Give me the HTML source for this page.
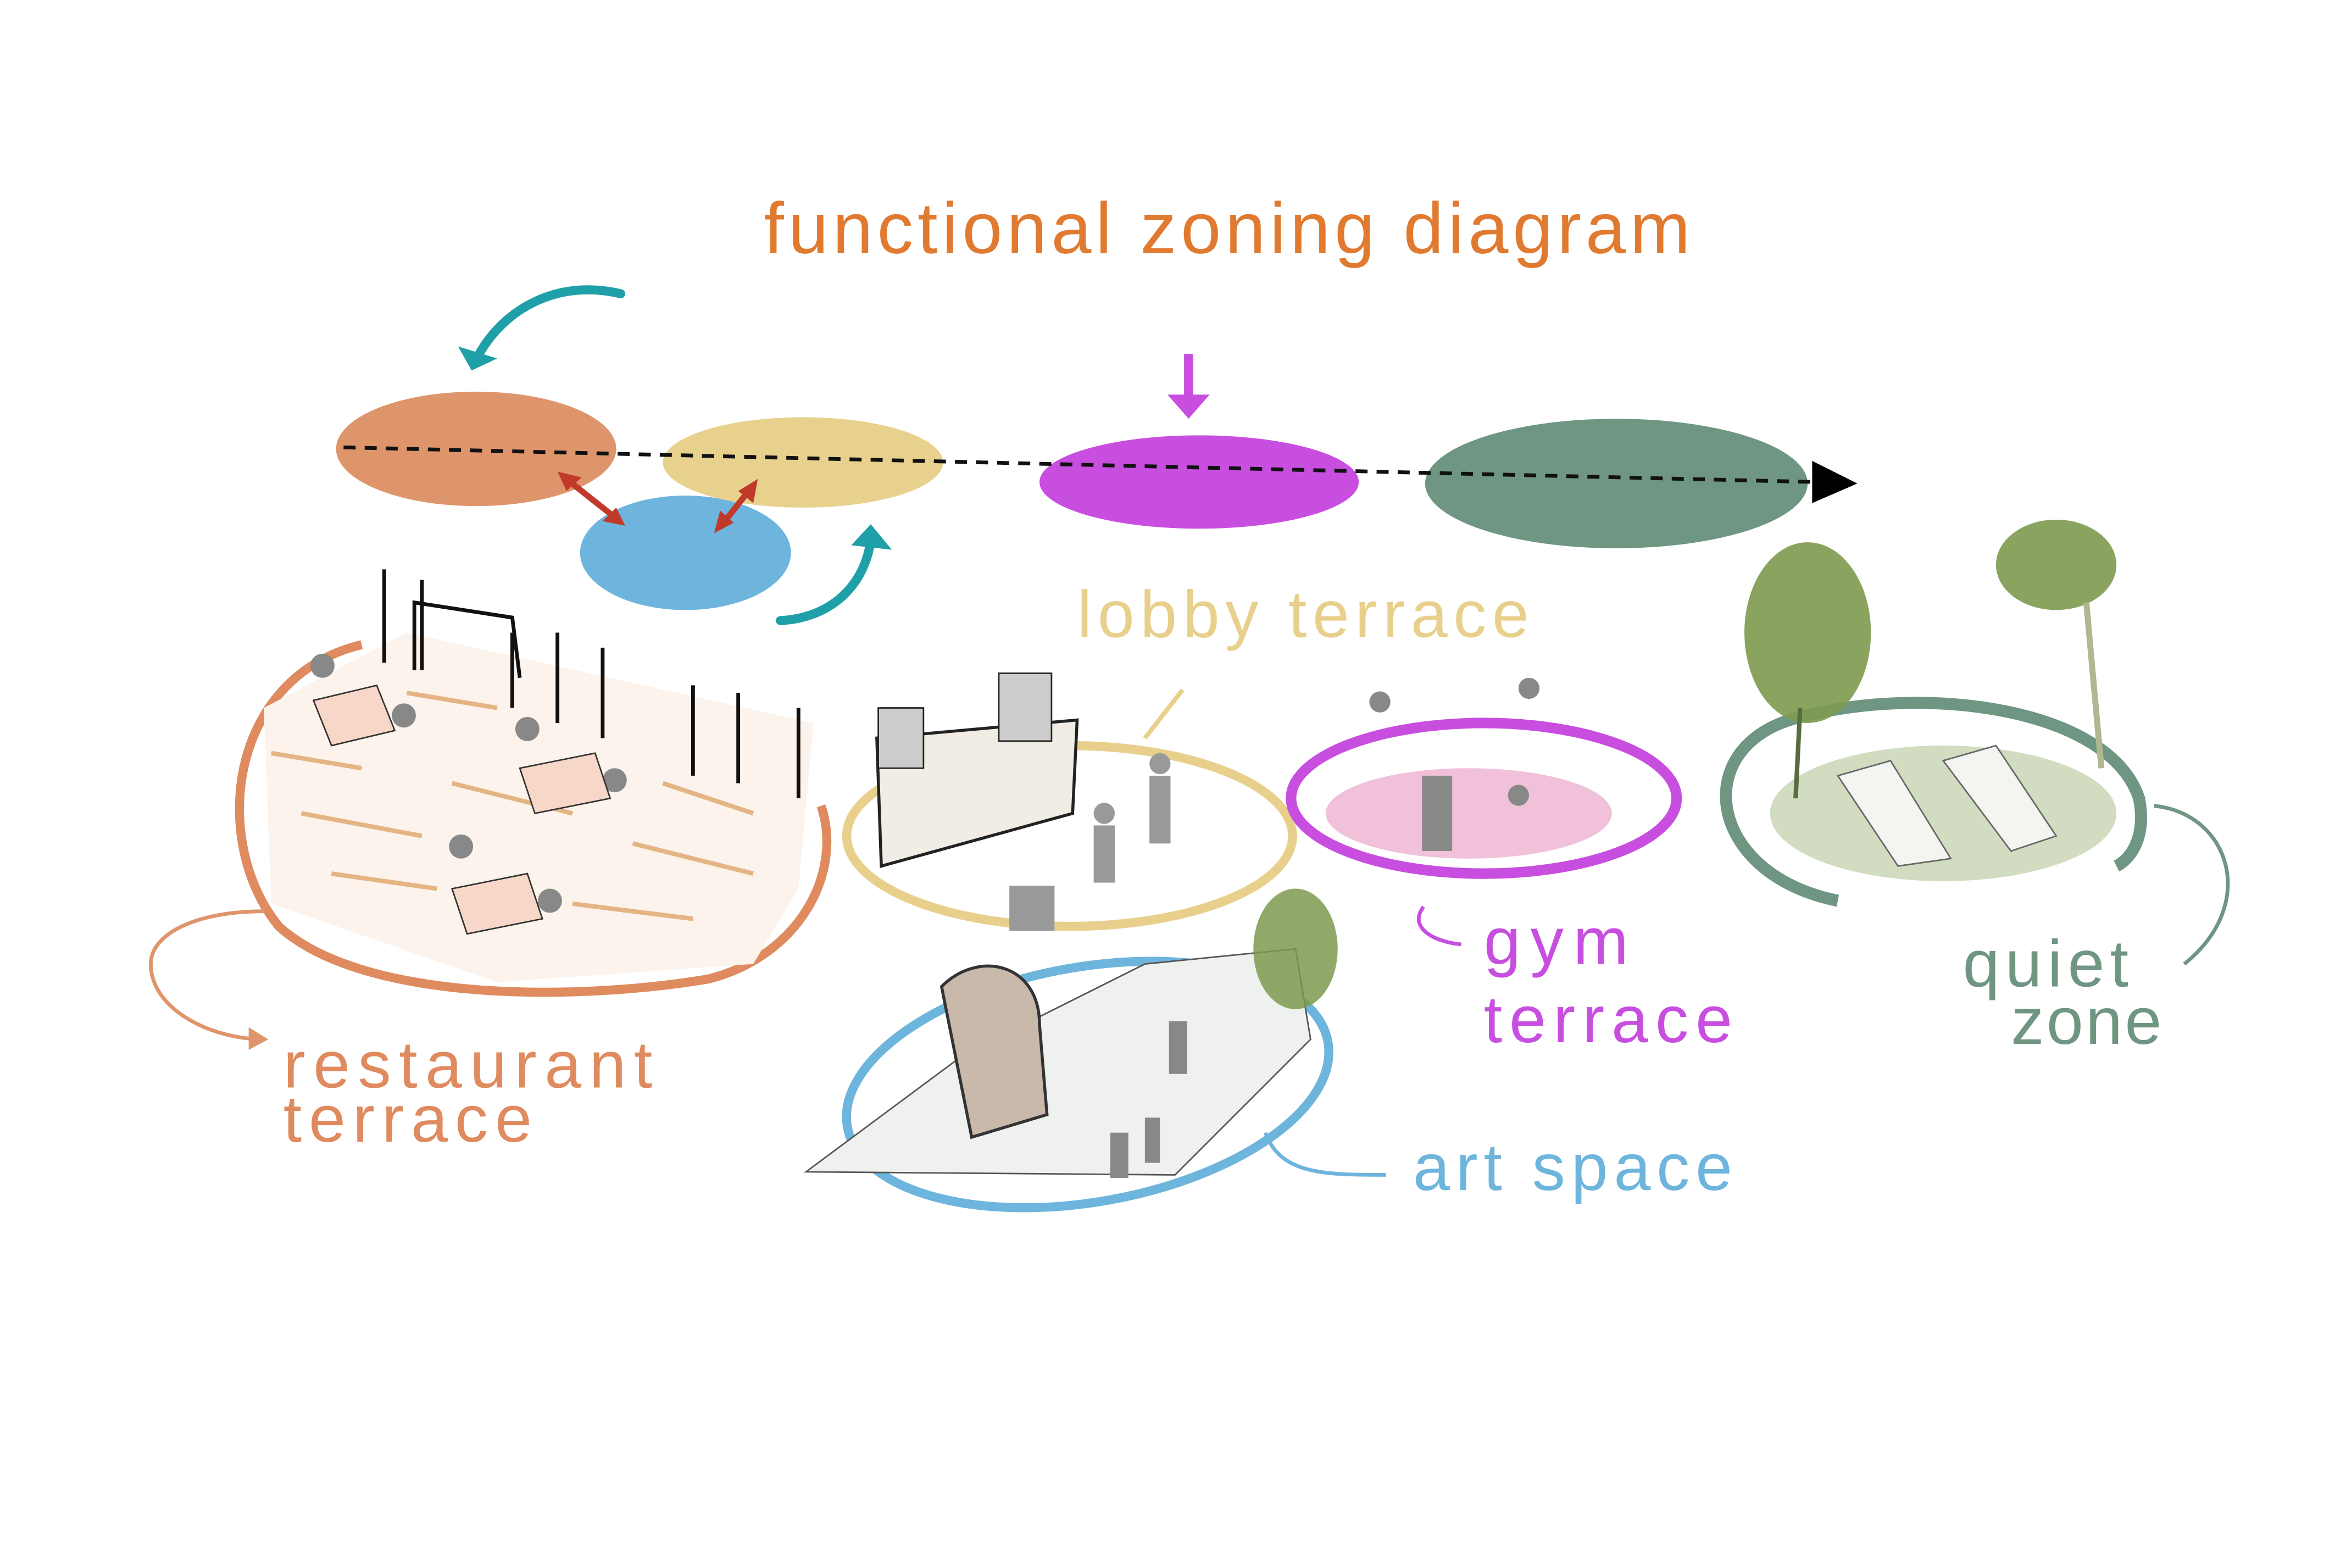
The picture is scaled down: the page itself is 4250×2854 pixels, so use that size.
<!DOCTYPE html>
<html><head><meta charset="utf-8"><style>
html,body{margin:0;padding:0;background:#fff}
svg{display:block}
text{font-family:"Liberation Sans","DejaVu Sans",sans-serif}
</style></head><body>
<svg width="4250" height="2854" viewBox="0 0 1550 1041" xmlns="http://www.w3.org/2000/svg">
<rect width="1550" height="1041" fill="#fff"/>
<text x="507" y="168" font-size="48" fill="#e07a30" textLength="615" lengthAdjust="spacing">functional zoning diagram</text>
<ellipse cx="316" cy="298" rx="93" ry="38" fill="#df956b"/>
<ellipse cx="455" cy="367" rx="70" ry="38" fill="#6db5dc"/>
<ellipse cx="533" cy="307" rx="93" ry="30" fill="#e8d18d"/>
<ellipse cx="796" cy="320" rx="106" ry="31" fill="#c84ee0"/>
<ellipse cx="1073" cy="321" rx="127" ry="43" fill="#6f9682"/>
<line x1="228" y1="297" x2="1205" y2="320" stroke="#111" stroke-width="2.5" stroke-dasharray="8,6"/>
<polygon points="1203,306 1233,321 1203,334" fill="#000"/>
<g stroke="#c0392b" stroke-width="4" fill="none">
<line x1="376" y1="318" x2="410" y2="345"/><line x1="478" y1="350" x2="500" y2="322"/>
</g>
<g fill="#c0392b"><polygon points="370,313 386,317 376,326"/><polygon points="415,349 400,346 409,337"/>
<polygon points="503,318 500,334 490,326"/><polygon points="474,354 478,339 487,347"/></g>
<g stroke="#1fa0a8" stroke-width="6" fill="none" stroke-linecap="round">
<path d="M412,195 C370,185 335,205 318,235"/>
<path d="M518,412 C555,410 575,385 578,358"/>
</g>
<polygon points="304,230 330,238 313,246" fill="#1fa0a8"/>
<polygon points="565,362 578,348 592,365" fill="#1fa0a8"/>
<line x1="789" y1="235" x2="789" y2="268" stroke="#c84ee0" stroke-width="6"/>
<polygon points="775,262 789,278 803,262" fill="#c84ee0"/>
<path d="M240,428 C150,450 140,560 185,615 C240,665 380,665 470,650 C530,635 560,580 545,535" fill="none" stroke="#df8b5f" stroke-width="6"/>
<path d="M175,470 L270,420 L540,480 L530,590 L500,640 L330,652 L180,600 Z" fill="#fbf3ec"/>
<g stroke="#e0a56a" stroke-width="3" opacity=".8">
<line x1="180" y1="500" x2="240" y2="510"/><line x1="200" y1="540" x2="280" y2="555"/><line x1="270" y1="460" x2="330" y2="470"/>
<line x1="300" y1="520" x2="380" y2="540"/><line x1="420" y1="560" x2="500" y2="580"/><line x1="380" y1="600" x2="460" y2="610"/>
<line x1="220" y1="580" x2="290" y2="590"/><line x1="440" y1="520" x2="500" y2="540"/></g>
<g stroke="#111" stroke-width="2.5"><line x1="255" y1="378" x2="255" y2="440"/><line x1="280" y1="385" x2="280" y2="445"/>
<line x1="340" y1="420" x2="340" y2="470"/><line x1="370" y1="420" x2="370" y2="480"/><line x1="400" y1="430" x2="400" y2="490"/>
<line x1="460" y1="455" x2="460" y2="515"/><line x1="490" y1="460" x2="490" y2="520"/><line x1="530" y1="470" x2="530" y2="530"/>
<path d="M275,445 L275,400 L340,410 L345,450" fill="none"/></g>
<g fill="#888"><circle cx="214" cy="442" r="8"/><circle cx="350" cy="484" r="8"/><circle cx="306" cy="562" r="8"/><circle cx="268" cy="475" r="8"/><circle cx="408" cy="518" r="8"/><circle cx="365" cy="598" r="8"/></g>
<g fill="#f7d7c8" stroke="#333"><polygon points="208,465 250,455 262,485 220,495"/><polygon points="345,510 395,500 405,530 355,540"/><polygon points="300,590 350,580 360,610 310,620"/></g>
<path d="M175,605 C130,605 100,620 100,640 C100,670 140,690 175,690" fill="none" stroke="#df956b" stroke-width="2.5"/>
<polygon points="165,682 178,690 165,697" fill="#df956b"/>
<text x="188" y="722" font-size="44" fill="#df8b5f" textLength="245" lengthAdjust="spacing">restaurant</text>
<text x="188" y="758" font-size="44" fill="#df8b5f" textLength="165" lengthAdjust="spacing">terrace</text>
<text x="715" y="423" font-size="44" fill="#e8d08c" textLength="300" lengthAdjust="spacing">lobby terrace</text>
<ellipse cx="710" cy="555" rx="148" ry="60" fill="#fff" stroke="#e8d08c" stroke-width="6"/>
<path d="M582,490 L715,478 L712,540 L585,575 Z" fill="#f1ece4" stroke="#222" stroke-width="2"/>
<rect x="583" y="470" width="30" height="40" fill="#ccc" stroke="#222"/><rect x="663" y="447" width="35" height="45" fill="#ccc" stroke="#222"/>
<g fill="#999"><circle cx="770" cy="507" r="7"/><rect x="763" y="515" width="14" height="45"/><circle cx="733" cy="540" r="7"/><rect x="726" y="548" width="14" height="38"/><rect x="670" y="588" width="30" height="30"/></g>
<path d="M760,490 L785,458" stroke="#e8d08c" stroke-width="3"/>
<ellipse cx="985" cy="530" rx="128" ry="50" fill="#fff" stroke="#c84ee0" stroke-width="7"/>
<ellipse cx="975" cy="540" rx="95" ry="30" fill="#e9a6c9" opacity=".7"/>
<g fill="#888"><circle cx="916" cy="466" r="7"/><circle cx="1015" cy="457" r="7"/><rect x="944" y="515" width="20" height="50"/><circle cx="1008" cy="528" r="7"/></g>
<path d="M945,602 C935,615 950,625 970,627" fill="none" stroke="#c84ee0" stroke-width="2.5"/>
<text x="985" y="640" font-size="44" fill="#c84ee0" textLength="96" lengthAdjust="spacing">gym</text>
<text x="985" y="692" font-size="44" fill="#c84ee0" textLength="165" lengthAdjust="spacing">terrace</text>
<ellipse cx="722" cy="720" rx="162" ry="78" transform="rotate(-10 722 720)" fill="#fff" stroke="#6db5dc" stroke-width="6"/>
<path d="M535,778 L640,700 L760,640 L860,630 L870,690 L780,780 Z" fill="#eef1ee" stroke="#555" stroke-width="1"/>
<path d="M625,655 C650,630 690,640 690,680 L695,740 L645,755 Z" fill="#c9b9ab" stroke="#333" stroke-width="2"/>
<ellipse cx="860" cy="630" rx="28" ry="40" fill="#7d9a4e" opacity=".85"/>
<g fill="#888"><rect x="776" y="678" width="12" height="35"/><rect x="737" y="752" width="12" height="30"/><rect x="760" y="742" width="10" height="30"/></g>
<path d="M840,752 C850,780 880,780 920,780" fill="none" stroke="#6db5dc" stroke-width="2.5"/>
<text x="938" y="790" font-size="44" fill="#6db5dc" textLength="212" lengthAdjust="spacing">art space</text>
<path d="M1220,598 C1130,580 1120,490 1200,475 C1280,455 1400,470 1420,530 C1425,555 1415,570 1405,575" fill="none" stroke="#6f9682" stroke-width="8"/>
<ellipse cx="1290" cy="540" rx="115" ry="45" fill="#c6d3b2" opacity=".8"/>
<g fill="#f4f4f0" stroke="#666"><polygon points="1220,515 1255,505 1295,570 1260,575"/><polygon points="1290,505 1325,495 1365,555 1335,565"/></g>
<ellipse cx="1200" cy="420" rx="42" ry="60" fill="#7d9a4e" opacity=".9"/>
<ellipse cx="1365" cy="375" rx="40" ry="30" fill="#7d9a4e" opacity=".9"/>
<line x1="1385" y1="400" x2="1395" y2="510" stroke="#b0b890" stroke-width="4"/>
<line x1="1195" y1="470" x2="1192" y2="530" stroke="#5b6b40" stroke-width="3"/>
<path d="M1430,535 C1480,540 1500,600 1450,640" fill="none" stroke="#6f9682" stroke-width="2.5"/>
<text x="1303" y="655" font-size="44" fill="#6f9682" textLength="110" lengthAdjust="spacing">quiet</text>
<text x="1335" y="693" font-size="44" fill="#6f9682" textLength="100" lengthAdjust="spacing">zone</text>
</svg>
</body></html>
